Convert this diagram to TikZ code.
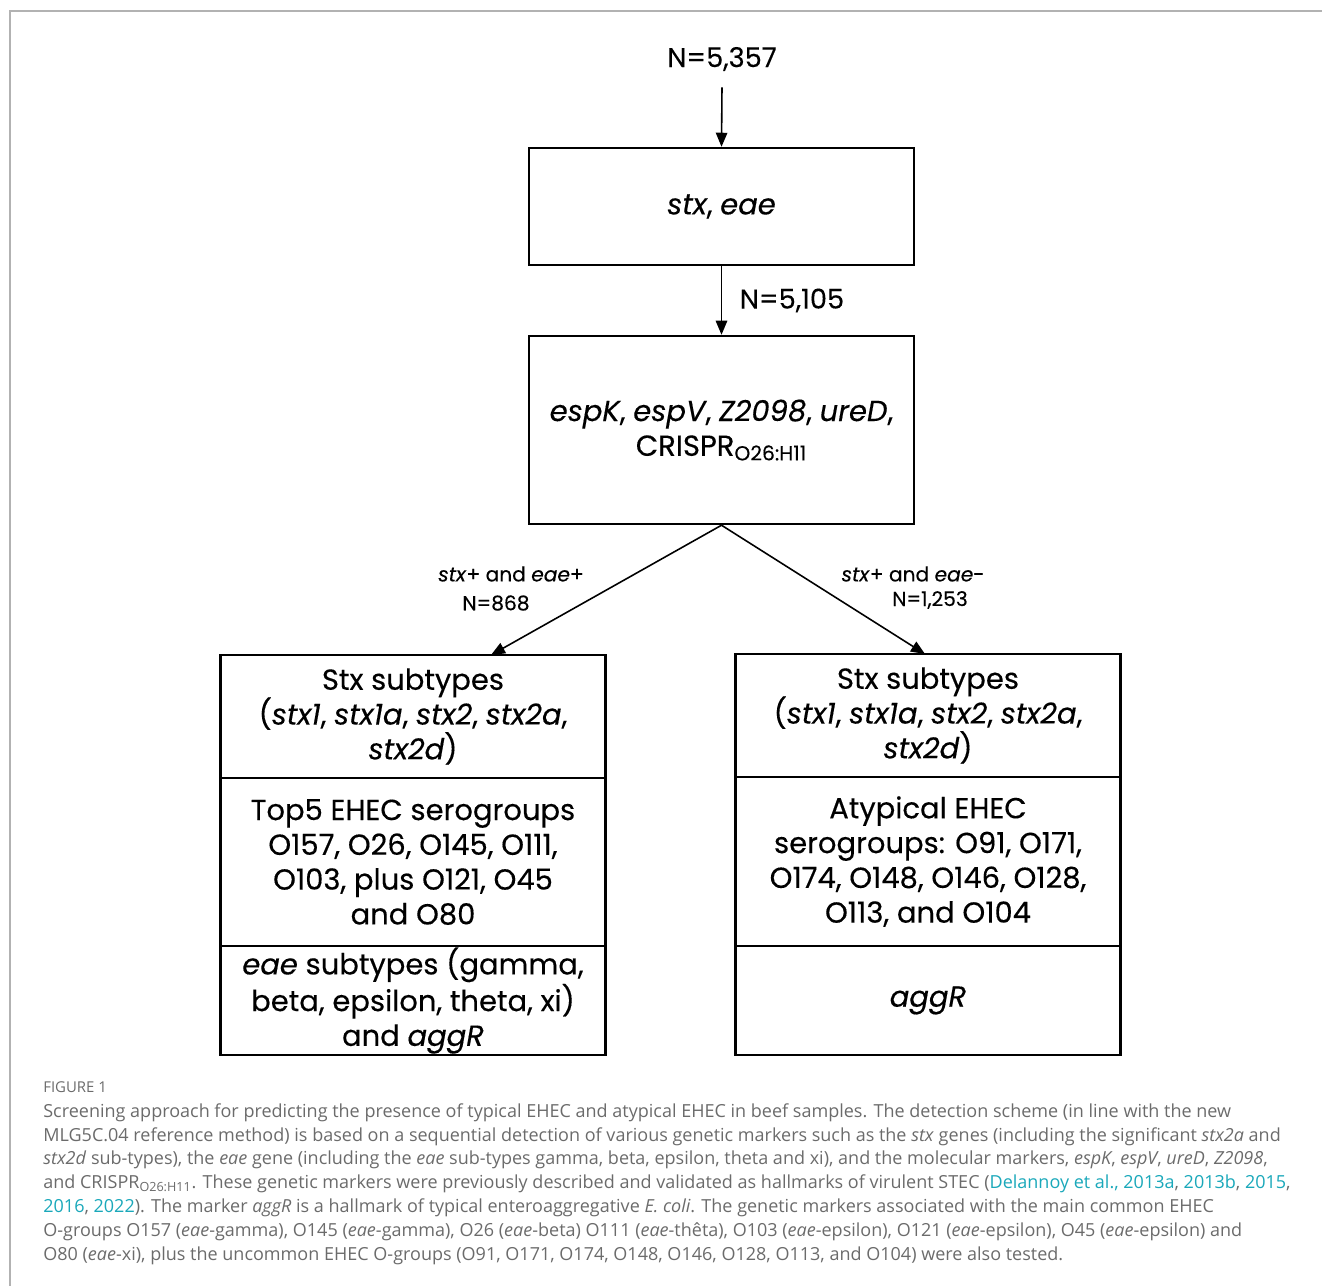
\documentclass[tikz,border=0pt]{standalone}
\usepackage{fontspec}
\setmainfont{Poppins}[FakeBold=0.3]
\newfontfamily\capfont{Open Sans}
\usetikzlibrary{arrows.meta}
\definecolor{capgray}{HTML}{6B6B6B}
\definecolor{linkteal}{HTML}{1AA8BA}
\definecolor{framegray}{HTML}{B2B2B2}
\newcommand{\reflink}[1]{\textcolor{linkteal}{#1}}
\tikzset{
  box/.style={draw, line width=1.4pt, minimum width=7.7cm, align=center, inner sep=0pt, font=\fontsize{16.5}{19.8}\selectfont},
  flow/.style={-{Triangle[length=8pt,width=6.5pt]}, line width=0.9pt},
  count/.style={font=\fontsize{15.5}{18}\selectfont, inner sep=0pt},
  branch/.style={font=\fontsize{11.5}{14}\selectfont, inner sep=0pt}
}

\begin{document}
\begin{tikzpicture}[x=0.02cm, y=-0.02cm]
\useasboundingbox (0,0) rectangle (1322,1286);
\draw[framegray, line width=1.2pt] (1322,11) -- (10,11) -- (10,1286);%frame

\node[count] (total) at (722,59) {N=5,357};
\node[box, minimum height=2.34cm] (box1) at (721.5,206.5) {\textit{stx}, \textit{eae}};
\node[box, minimum height=3.76cm] (box2) at (721.5,430) {\textit{espK}, \textit{espV}, \textit{Z2098}, \textit{ureD},\\ CRISPR\textsubscript{O26:H11}};

\draw[flow] (total.south) ++(0,16) -- (box1.north);
\draw[flow] (box1.south) -- (box2.north) node[count, midway, right=10pt] (n2) {N=5,105};

% left column: typical EHEC
\node[box, minimum height=2.46cm] (l1) at (413,716.5) {Stx subtypes\\ (\textit{stx1}, \textit{stx1a}, \textit{stx2}, \textit{stx2a},\\ \textit{stx2d})};
\node[box, minimum height=3.36cm] (l2) at (413,862) {Top5 EHEC serogroups\\ O157, O26, O145, O111,\\ O103, plus O121, O45\\ and O80};
\node[box, minimum height=2.18cm] (l3) at (413,1000.5) {\textit{eae} subtypes (gamma,\\ beta, epsilon, theta, xi)\\ and \textit{aggR}};

% right column: atypical EHEC
\node[box, minimum height=2.46cm] (r1) at (928,715.5) {Stx subtypes\\ (\textit{stx1}, \textit{stx1a}, \textit{stx2}, \textit{stx2a},\\ \textit{stx2d})};
\node[box, minimum height=3.38cm] (r2) at (928,861.5) {Atypical EHEC\\ serogroups: O91, O171,\\ O174, O148, O146, O128,\\ O113, and O104};
\node[box, minimum height=2.18cm] (r3) at (928,1000.5) {\textit{aggR}};

\coordinate (ltip) at (491,655);
\coordinate (rtip) at (925,654);
\draw[flow] (box2.south) -- (ltip);
\draw[flow] (box2.south) -- (rtip);

\node[branch] (lab1) at (511,574) {\textit{stx}+ and \textit{eae}+};
\node[branch] (lab2) at (496,603) {N=868};
\node[branch] (lab3) at (913,574) {\textit{stx}+ and \textit{eae}-};
\node[branch] (lab4) at (930,600) {N=1,253};

% caption
\node[anchor=base west, inner sep=0pt, text=capgray, font=\capfont\fontsize{8.5}{10}\selectfont] (fig) at (43,1092) {FIGURE 1};
\node[anchor=north west, inner sep=0pt, align=left, text=capgray, font=\capfont\fontsize{10.25}{13.6}\selectfont] (capt) at (43,1103) {Screening approach for predicting the presence of typical EHEC and atypical EHEC in beef samples. The detection scheme (in line with the new\\
MLG5C.04 reference method) is based on a sequential detection of various genetic markers such as the \textit{stx} genes (including the significant \textit{stx2a} and\\
\textit{stx2d} sub-types), the \textit{eae} gene (including the \textit{eae} sub-types gamma, beta, epsilon, theta and xi), and the molecular markers, \textit{espK}, \textit{espV}, \textit{ureD}, \textit{Z2098},\\
and CRISPR\textsubscript{O26:H11}. These genetic markers were previously described and validated as hallmarks of virulent STEC (\reflink{Delannoy et al., 2013a}, \reflink{2013b}, \reflink{2015},\\
\reflink{2016}, \reflink{2022}). The marker \textit{aggR} is a hallmark of typical enteroaggregative \textit{E. coli}. The genetic markers associated with the main common EHEC\\
O-groups O157 (\textit{eae}-gamma), O145 (\textit{eae}-gamma), O26 (\textit{eae}-beta) O111 (\textit{eae}-thêta), O103 (\textit{eae}-epsilon), O121 (\textit{eae}-epsilon), O45 (\textit{eae}-epsilon) and\\
O80 (\textit{eae}-xi), plus the uncommon EHEC O-groups (O91, O171, O174, O148, O146, O128, O113, and O104) were also tested.};
\end{tikzpicture}
\end{document}
